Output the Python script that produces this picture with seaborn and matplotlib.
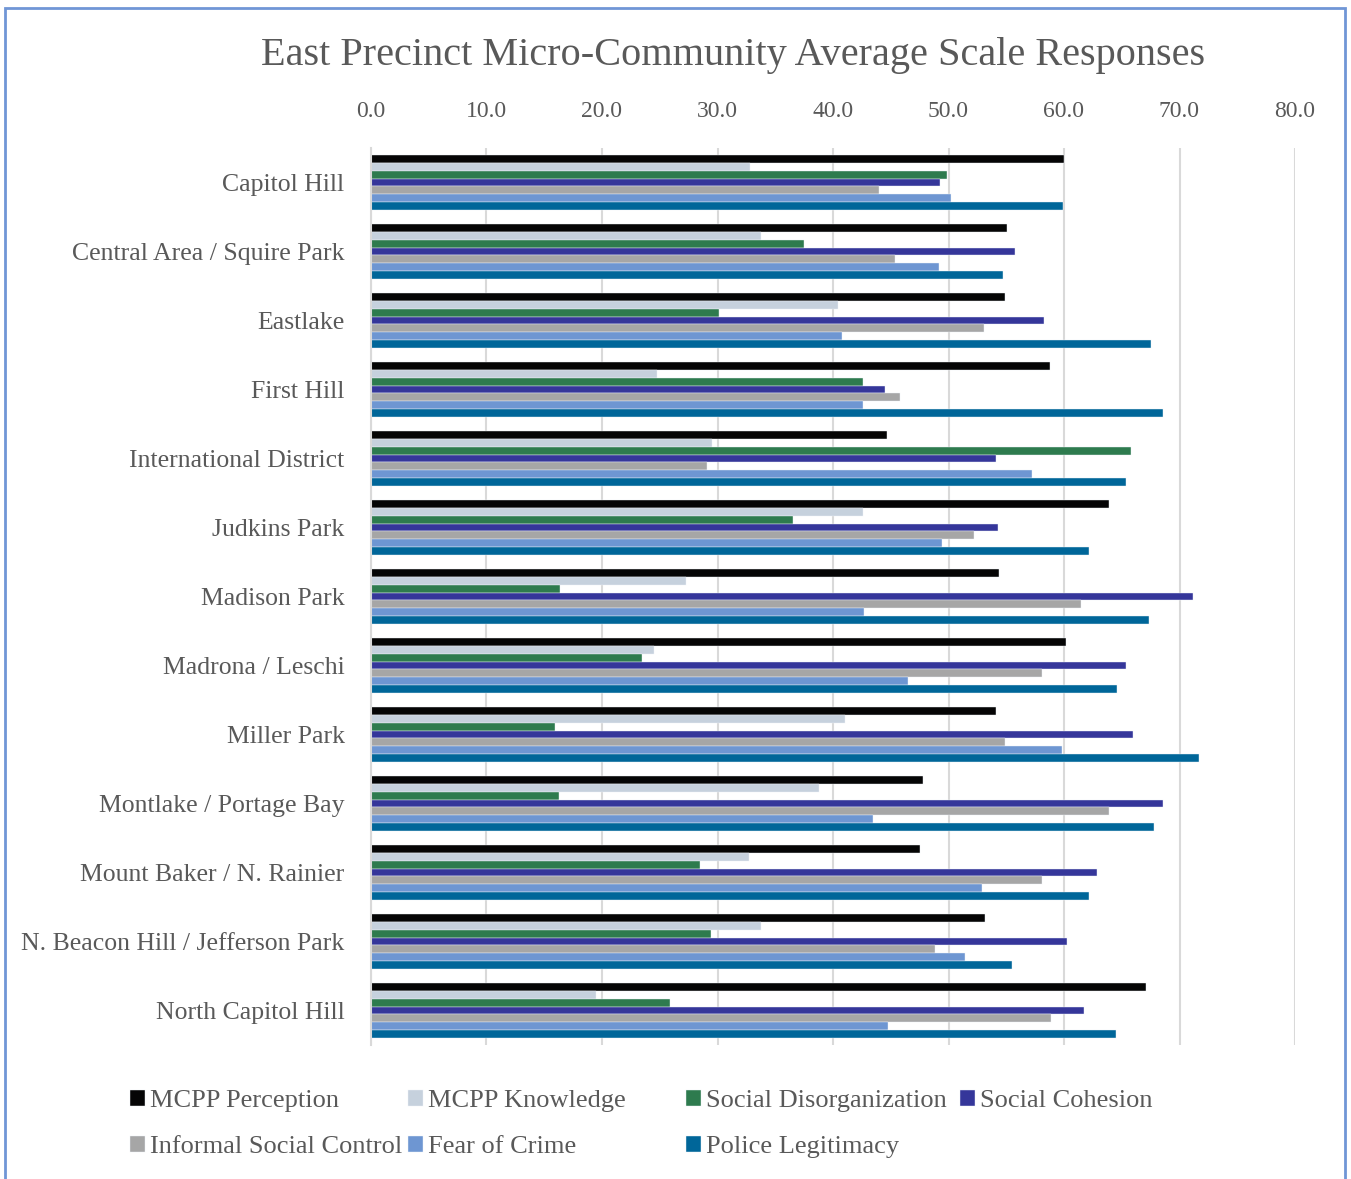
import numpy as np
import pandas as pd
import matplotlib
matplotlib.use("Agg")
import matplotlib.pyplot as plt
import seaborn as sns
from matplotlib.patches import Rectangle

communities = ["Capitol Hill", "Central Area / Squire Park", "Eastlake", "First Hill",
               "International District", "Judkins Park", "Madison Park", "Madrona / Leschi",
               "Miller Park", "Montlake / Portage Bay", "Mount Baker / N. Rainier",
               "N. Beacon Hill / Jefferson Park", "North Capitol Hill"]

series = ["MCPP Perception", "MCPP Knowledge", "Social Disorganization", "Social Cohesion",
          "Informal Social Control", "Fear of Crime", "Police Legitimacy"]

perception = [60.0, 55.1, 54.9, 58.8, 44.7, 63.9, 54.4, 60.2, 54.1, 47.8, 47.5, 53.2, 67.1]
knowledge = [32.8, 33.8, 40.4, 24.8, 29.5, 42.6, 27.3, 24.5, 41.0, 38.8, 32.7, 33.8, 19.5]
disorganization = [49.9, 37.5, 30.1, 42.6, 65.8, 36.5, 16.4, 23.5, 15.9, 16.3, 28.5, 29.4, 25.9]
cohesion = [49.3, 55.8, 58.3, 44.5, 54.1, 54.3, 71.2, 65.4, 66.0, 68.6, 62.9, 60.3, 61.7]
informal = [44.0, 45.4, 53.1, 45.8, 29.1, 52.2, 61.5, 58.1, 54.9, 63.9, 58.1, 48.8, 58.9]
fear = [50.2, 49.2, 40.8, 42.6, 57.2, 49.4, 42.7, 46.5, 59.8, 43.5, 52.9, 51.4, 44.8]
legitimacy = [59.9, 54.7, 67.5, 68.6, 65.4, 62.2, 67.4, 64.6, 71.7, 67.8, 62.2, 55.5, 64.5]

colors = ["#050505", "#C6D1DD", "#2E7B4E", "#35369A", "#A6A6A6", "#6E96D2", "#006699"]

values = [perception, knowledge, disorganization, cohesion, informal, fear, legitimacy]
rows = []
for s, vals in zip(series, values):
    for c, v in zip(communities, vals):
        rows.append({"Community": c, "Scale": s, "Score": v})
df = pd.DataFrame(rows)

sns.set_style("white")
plt.rcParams["font.family"] = ["Liberation Serif", "DejaVu Serif"]
text_color = "#595959"

W, H = 1351, 1179
fig = plt.figure(figsize=(W / 100, H / 100), dpi=100)
ax = fig.add_axes([371 / W, 1 - 1045 / H, (1295 - 371) / W, (1045 - 148) / H])

sns.barplot(data=df, y="Community", x="Score", hue="Scale", order=communities,
            hue_order=series, palette=colors, saturation=1, orient="h", width=0.8,
            edgecolor="#EEF2F8", linewidth=0.3, ax=ax)

ax.set_xlim(0, 80)
ax.set_xticks(np.arange(0, 81, 10))
ax.set_xticklabels([f"{t:.1f}" for t in np.arange(0, 81, 10)])
ax.xaxis.tick_top()
ax.tick_params(axis="x", length=0, pad=19, labelsize=17, labelcolor=text_color)
ax.tick_params(axis="y", length=0, pad=19, labelsize=18.5, labelcolor=text_color)
ax.set_xlabel("")
ax.set_ylabel("")
ax.grid(axis="x", color="#D9D9D9", linewidth=1.5)
ax.set_axisbelow(True)
for side in ["top", "right", "bottom"]:
    ax.spines[side].set_visible(False)
ax.spines["left"].set_color("#D9D9D9")
ax.spines["left"].set_linewidth(1.5)

handles, labels = ax.get_legend_handles_labels()
ax.get_legend().remove()

fig.text(733 / W, 1 - 55 / H, "East Precinct Micro-Community Average Scale Responses",
         ha="center", va="center", fontsize=29, color=text_color)

# legend laid out like Excel: fixed column positions, two rows
col_x = [130, 408, 686, 960]
for ci, x in enumerate(col_x):
    idx = [i for i in (ci, ci + 4) if i < len(handles)]
    fig.legend([handles[i] for i in idx], [labels[i] for i in idx],
               loc="upper left", bbox_to_anchor=(x / W, 1 - 1090 / H),
               frameon=False, fontsize=19, labelcolor=text_color,
               handlelength=0.55, handleheight=0.55, handletextpad=0.2,
               labelspacing=0.9, borderaxespad=0, borderpad=0)

fig.patches.append(Rectangle((5 / W, -0.02), (1345 - 5) / W, 1 - 8 / H + 0.02,
                             transform=fig.transFigure, fill=False,
                             edgecolor="#7096D6", linewidth=2))

fig.savefig("out.png", dpi=100)
